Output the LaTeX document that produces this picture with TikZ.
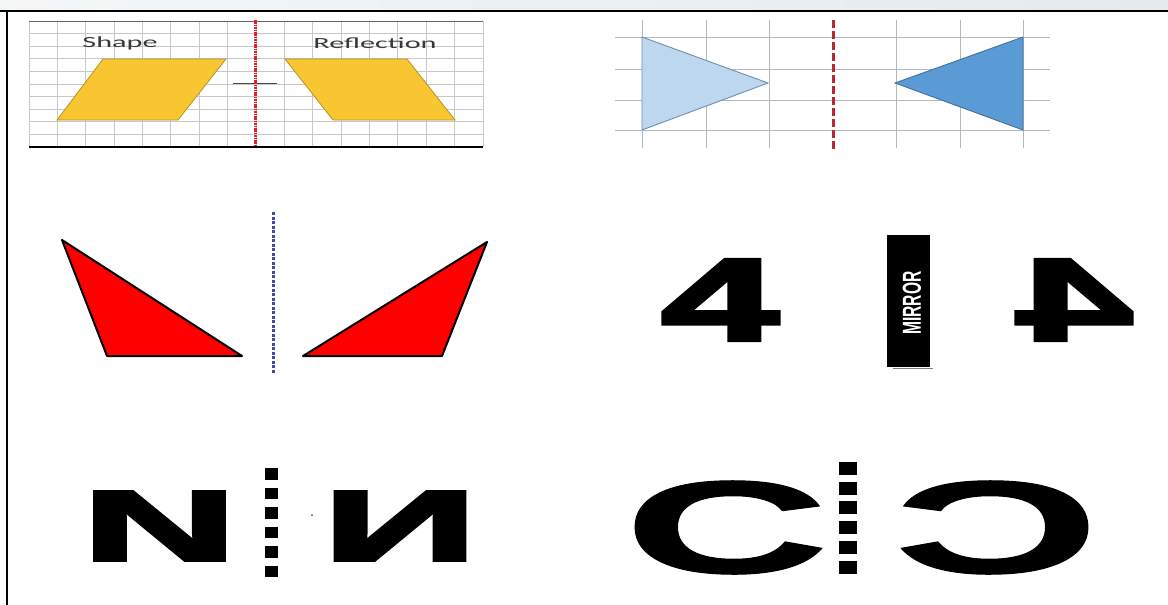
\documentclass[tikz,border=0pt]{standalone}
\usepackage{fontspec}
\setmainfont{Liberation Sans}
\newfontfamily\calfont{Carlito}
\newfontface\heavyfont[FakeBold=3]{Liberation Sans Bold}
\newfontface\ringfont[FakeBold=0.8]{Liberation Sans Bold}
\usepackage{graphicx}
\definecolor{stripcol}{HTML}{E4EAEE}
\definecolor{gridcol}{HTML}{C8C8C8}
\definecolor{gridcolb}{HTML}{B4B8BC}
\definecolor{labelcol}{HTML}{383838}
\definecolor{goldcol}{HTML}{F8C630}
\definecolor{goldedge}{HTML}{B8922A}
\definecolor{redline}{HTML}{E0202A}
\definecolor{redlineb}{HTML}{B8282E}
\definecolor{lightblue}{HTML}{BDD7EE}
\definecolor{lightedge}{HTML}{6E8FB5}
\definecolor{darkblue}{HTML}{5B9BD5}
\definecolor{darkedge}{HTML}{41719C}
\definecolor{redfill}{HTML}{FF0000}
\definecolor{bluedash}{HTML}{4646A8}

\begin{document}
\begin{tikzpicture}[x=1pt, y=-1pt,
  gridline/.style={gridcol, line width=0.8pt},
  glyph/.style={inner sep=0pt, outer sep=0pt, text=black},
  dotbar/.style={black, line width=#1}]

\useasboundingbox (0,0) rectangle (1168,605);

% --- Frame ---
\shade[left color=stripcol!40, right color=stripcol] (0,0) rectangle (1168,11);
\draw[black, line width=1.5pt] (0,11) -- (1168,11);
\draw[black, line width=1.2pt] (7,11) -- (7,605);

% --- Panel 1: parallelograms on grid ---
\begin{scope}
  \foreach \i in {0,...,16}
    \draw[gridline] (29+\i*28.375,21) -- (29+\i*28.375,147);
  \foreach \j in {1,...,9}
    \draw[gridline] (29,21+\j*12.6) -- (483,21+\j*12.6);
  \draw[gray!80!black, line width=1pt] (29,21) -- (483,21);
  \draw[black, line width=2pt] (29,147) -- (483,147);

  % Shapes
  \filldraw[fill=goldcol, draw=goldedge, line width=0.8pt]
    (57,120) -- (103,59) -- (226,59) -- (178,120) -- cycle;
  \filldraw[fill=goldcol, draw=goldedge, line width=0.8pt]
    (285,59) -- (407,59) -- (455,120) -- (333,120) -- cycle;

  % Mirror line
  \draw[black!70, line width=0.6pt] (233,83) -- (277,83);
  \draw[redline, line width=3pt, dash pattern=on 1.6pt off 0.8pt] (255,20) -- (255,146);

  % Labels
  \node[glyph, text=labelcol, font=\calfont\fontsize{15.5}{15.5}\selectfont] (shapelbl) at (120,43) {\scalebox{1.95}[1]{Shape}};
  \node[glyph, text=labelcol, font=\calfont\fontsize{15.5}{15.5}\selectfont] (refllbl) at (375,43) {\scalebox{1.95}[1]{Reflection}};
\end{scope}

% --- Panel 2: triangles on grid ---
\begin{scope}
  \foreach \x in {642,706,769,896,960,1023}
    \draw[gridcolb, line width=0.9pt] (\x,20) -- (\x,148);
  \foreach \y in {37,69,100,130}
    \draw[gridcolb, line width=0.9pt] (615,\y) -- (1050,\y);

  \filldraw[fill=lightblue, draw=lightedge, line width=0.9pt]
    (642,37) -- (768,83) -- (642,130) -- cycle;
  \filldraw[fill=darkblue, draw=darkedge, line width=0.9pt]
    (1023,37) -- (895,83) -- (1023,130) -- cycle;

  \draw[redlineb, line width=3pt, dash pattern=on 8pt off 3pt] (833,20) -- (833,150);
\end{scope}

% --- Panel 3: red triangles ---
\begin{scope}
  \filldraw[fill=redfill, draw=black, line width=2pt, line join=round]
    (62,240) -- (242,356) -- (107,356) -- cycle;
  \filldraw[fill=redfill, draw=black, line width=2pt, line join=round]
    (487,242) -- (442,356) -- (303,356) -- cycle;
  \draw[bluedash, line width=3pt, dash pattern=on 3pt off 1.5pt] (273,212) -- (273,373);
\end{scope}

% --- Panel 4: digit four and mirror ---
\begin{scope}
  \node[glyph, font=\heavyfont\fontsize{117}{117}\selectfont] (fourL) at (720,300) {\scalebox{1.8}[1]{4}};
  \node[glyph, font=\heavyfont\fontsize{117}{117}\selectfont] (fourR) at (1075,300) {\scalebox{-1.8}[1]{4}};

  \fill[black] (887,235) rectangle (930,367);
  \draw[gray, line width=1pt] (893,368.5) -- (933,368.5);
  \node[glyph, text=white, rotate=90, font=\bfseries\fontsize{26}{26}\selectfont] (mirrorlbl) at (912,303) {\scalebox{0.6}[1]{MIRROR}};
\end{scope}

% --- Panel 5: letter N ---
\begin{scope}
  \node[glyph, font=\heavyfont\fontsize{100}{100}\selectfont] (nL) at (159.5,526) {\scalebox{2.15}[1]{N}};
  \node[glyph, font=\heavyfont\fontsize{100}{100}\selectfont] (nR) at (400,526) {\scalebox{-2.15}[1]{N}};
  \draw[dotbar=13pt, dash pattern=on 11.5pt off 8pt] (271.5,468) -- (271.5,578);
  \fill[black!70] (312,515) circle (1pt);
\end{scope}

% --- Panel 6: letter C ---
\begin{scope}
  \node[glyph, font=\ringfont\fontsize{132}{132}\selectfont] (cL) at (726.5,527.5) {\scalebox{2.15}[1]{C}};
  \node[glyph, font=\ringfont\fontsize{132}{132}\selectfont] (cR) at (996.5,527.5) {\scalebox{-2.15}[1]{C}};
  \draw[dotbar=18pt, dash pattern=on 13pt off 6.7pt] (848,462) -- (848,578);
\end{scope}

\end{tikzpicture}
\end{document}
